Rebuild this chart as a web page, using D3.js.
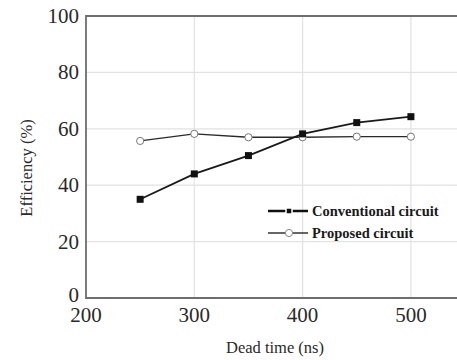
<!DOCTYPE html>
<html>
<head>
<meta charset="utf-8">
<script src="https://cdn.jsdelivr.net/npm/d3@7"></script>
<style>
  html, body { margin: 0; padding: 0; background: #fff; }
  svg { display: block; }
</style>
</head>
<body>
<svg id="chart" width="457" height="360"></svg>
<script>
// Dead time sweep (ns)
const deadTime = [250, 300, 350, 400, 450, 500];
// Efficiency (%) for each circuit
const conventional = [35, 44, 50.5, 58.2, 62.2, 64.3];
const proposed = [55.7, 58.2, 57.0, 57.0, 57.2, 57.2];
const xTicks = [200, 300, 400, 500];
const yTicks = [0, 20, 40, 60, 80, 100];
const seriesNames = ["Conventional circuit", "Proposed circuit"];

const svg = d3.select("#chart");
const plotLeft = 86, plotTop = 16, plotBottom = 298, plotRight = 470;

const x = d3.scaleLinear().domain([200, 200 + (plotRight - plotLeft) / 1.083]).range([plotLeft, plotRight]);
const y = d3.scaleLinear().domain([0, 100]).range([plotBottom, plotTop]);

const serif = "'Liberation Serif', 'Times New Roman', serif";

// Grid lines
const grid = svg.append("g");
grid.selectAll("line.h").data(yTicks.filter(d => d > 0 && d < 100)).join("line")
  .attr("x1", plotLeft).attr("x2", 457)
  .attr("y1", d => y(d)).attr("y2", d => y(d))
  .attr("stroke", "#e2e2e2").attr("stroke-width", 1.2);
grid.selectAll("line.v").data(xTicks.filter(d => d > 200)).join("line")
  .attr("x1", d => x(d)).attr("x2", d => x(d))
  .attr("y1", plotTop).attr("y2", plotBottom)
  .attr("stroke", "#e2e2e2").attr("stroke-width", 1.2);

// Frame: top, left, bottom
svg.append("path")
  .attr("d", `M457,${plotTop}H${plotLeft}V${plotBottom}H457`)
  .attr("fill", "none").attr("stroke", "#6e6e6e").attr("stroke-width", 1.8);

// Y tick labels
svg.append("g").selectAll("text").data(yTicks).join("text")
  .attr("x", 79).attr("y", d => y(d) - (d === 0 ? 3 : 0))
  .attr("text-anchor", "end").attr("dominant-baseline", "central")
  .attr("font-family", serif).attr("font-size", 21).attr("fill", "#2a2a2a")
  .text(d => d);

// X tick labels
svg.append("g").selectAll("text").data(xTicks).join("text")
  .attr("x", d => x(d)).attr("y", 322)
  .attr("text-anchor", "middle")
  .attr("font-family", serif).attr("font-size", 21).attr("fill", "#2a2a2a")
  .text(d => d);

// Axis titles
svg.append("text")
  .attr("x", 275).attr("y", 353).attr("text-anchor", "middle")
  .attr("font-family", serif).attr("font-size", 16.5).attr("fill", "#2a2a2a")
  .text("Dead time (ns)");
svg.append("text")
  .attr("transform", `translate(32,168) rotate(-90)`).attr("text-anchor", "middle")
  .attr("font-family", serif).attr("font-size", 16.5).attr("fill", "#2a2a2a")
  .text("Efficiency (%)");

const line = d3.line().x(d => x(d[0])).y(d => y(d[1]));

// Proposed circuit
const pData = deadTime.map((t, i) => [t, proposed[i]]);
svg.append("path").datum(pData).attr("d", line)
  .attr("fill", "none").attr("stroke", "#2a2a2a").attr("stroke-width", 1.3);
svg.append("g").selectAll("circle").data(pData).join("circle")
  .attr("cx", d => x(d[0])).attr("cy", d => y(d[1])).attr("r", 3.6)
  .attr("fill", "#fff").attr("stroke", "#777").attr("stroke-width", 1);

// Conventional circuit
const cData = deadTime.map((t, i) => [t, conventional[i]]);
svg.append("path").datum(cData).attr("d", line)
  .attr("fill", "none").attr("stroke", "#1a1a1a").attr("stroke-width", 1.8);
svg.append("g").selectAll("rect").data(cData).join("rect")
  .attr("x", d => x(d[0]) - 3.5).attr("y", d => y(d[1]) - 3.5)
  .attr("width", 7).attr("height", 7).attr("fill", "#111");

// Legend
const legend = svg.append("g");
legend.append("line").attr("x1", 268).attr("x2", 308).attr("y1", 211).attr("y2", 211)
  .attr("stroke", "#111").attr("stroke-width", 2.6);
legend.append("rect").attr("x", 286).attr("y", 208).attr("width", 6).attr("height", 6)
  .attr("fill", "#111").attr("stroke", "#fff").attr("stroke-width", 1.5);
legend.append("text").attr("x", 312).attr("y", 216)
  .attr("font-family", serif).attr("font-weight", "bold").attr("font-size", 14.5)
  .attr("fill", "#1a1a1a").text(seriesNames[0]);

legend.append("line").attr("x1", 268).attr("x2", 308).attr("y1", 233).attr("y2", 233)
  .attr("stroke", "#333").attr("stroke-width", 1.3);
legend.append("circle").attr("cx", 289).attr("cy", 233).attr("r", 3.6)
  .attr("fill", "#fff").attr("stroke", "#888").attr("stroke-width", 1);
legend.append("text").attr("x", 312).attr("y", 238)
  .attr("font-family", serif).attr("font-weight", "bold").attr("font-size", 14.5)
  .attr("fill", "#1a1a1a").text(seriesNames[1]);
</script>
</body>
</html>
